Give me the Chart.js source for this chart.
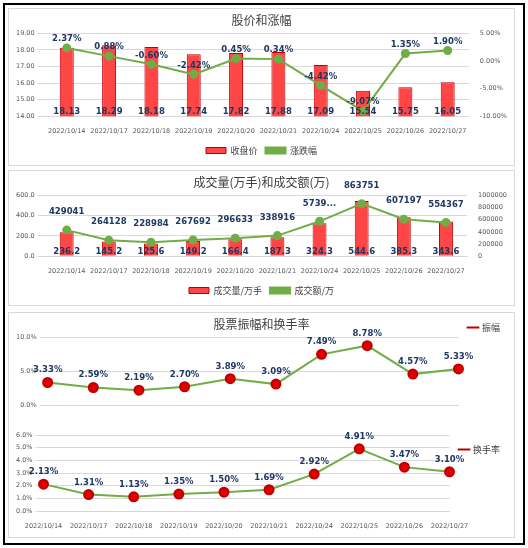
<!DOCTYPE html>
<html><head><meta charset="utf-8">
<script src="https://cdn.jsdelivr.net/npm/chart.js@4"></script>
<style>
body{margin:0;background:#fff;font-family:"Noto Sans CJK SC",sans-serif}
#outer{position:absolute;left:3px;top:3px;width:518px;height:538px;border:2px solid #000}
.box{position:absolute;border:1px solid #d9d9d9;background:#fff}
.box div{position:absolute}
</style></head><body>
<div id="outer"></div>
<div class="box" style="left:8px;top:8px;width:505px;height:156px"><div style="left:0;top:0;width:505px;height:156px"><canvas id="c1"></canvas></div></div>
<div class="box" style="left:8px;top:170px;width:505px;height:134px"><div style="left:0;top:0;width:505px;height:134px"><canvas id="c2"></canvas></div></div>
<div class="box" style="left:8px;top:312px;width:505px;height:224px">
  <div style="left:0;top:0;width:505px;height:108px"><canvas id="c3"></canvas></div>
  <div style="left:0;top:108px;width:505px;height:116px"><canvas id="c4"></canvas></div>
</div>
<script>
const dates = ['2022/10/14','2022/10/17','2022/10/18','2022/10/19','2022/10/20','2022/10/21','2022/10/24','2022/10/25','2022/10/26','2022/10/27'];
const closePrice = [18.13,18.29,18.18,17.74,17.82,17.88,17.09,15.54,15.75,16.05];
const changePct = [2.37,0.88,-0.60,-2.42,0.45,0.34,-4.42,-9.07,1.35,1.90];
const volume = [236.2,145.2,125.6,149.2,166.4,187.3,324.3,544.6,385.3,343.6];
const amount = [429041,264128,228984,267692,296633,338916,573936,863751,607197,554367];
const amountText = ['429041','264128','228984','267692','296633','338916','5739...','863751','607197','554367'];
const amplitude = [3.33,2.59,2.19,2.70,3.89,3.09,7.49,8.78,4.57,5.33];
const turnover = [2.13,1.31,1.13,1.35,1.50,1.69,2.92,4.91,3.47,3.10];

const RED = 'rgba(255,60,60,0.95)', GREEN = '#70ad47', NAVY = '#1f3864', GRID = '#d9d9d9', TICK = '#595959';
const tickFont = {size: 6.5, family: 'DejaVu Sans'};

// value labels: bars at the bottom of the plot, line points above the point
const valueLabels = {
  id: 'valueLabels',
  afterDatasetsDraw(chart) {
    const ctx = chart.ctx;
    ctx.save();
    ctx.font = 'bold 8.5px "DejaVu Sans"';
    ctx.fillStyle = NAVY;
    ctx.textAlign = 'center';
    chart.data.datasets.forEach((ds, i) => {
      const meta = chart.getDatasetMeta(i);
      meta.data.forEach((el, j) => {
        const txt = ds.labelText[j];
        if (meta.type === 'bar') {
          ctx.fillText(txt, el.x, chart.chartArea.bottom - 4);
        } else {
          ctx.fillText(txt, el.x, el.y - ds.labelOffset);
        }
      });
    });
    ctx.restore();
  }
};

function xAxis(show) {
  return {grid: {display: false}, border: {color: GRID},
    ticks: {display: show, font: tickFont, color: TICK, maxRotation: 0, autoSkip: false}};
}
function titleOpt(t) {
  return {display: true, text: t, color: '#404040', font: {size: 12, weight: 'normal', family: 'Noto Sans CJK SC'}, padding: {top: 4, bottom: 6}};
}
const legendBottom = {position: 'bottom', reverse: true,
  labels: {boxWidth: 20, boxHeight: 6, font: {size: 9, family: 'Noto Sans CJK SC'}, color: '#404040', padding: 8}};

new Chart(document.getElementById('c1'), {
  type: 'bar',
  data: {labels: dates, datasets: [
    {type: 'line', label: '涨跌幅', data: changePct, yAxisID: 'y1', borderColor: GREEN, backgroundColor: GREEN, borderWidth: 2, pointRadius: 3.5, labelText: changePct.map(v => v.toFixed(2) + '%'), labelOffset: 9, order: 0},
    {label: '收盘价', data: closePrice, yAxisID: 'y', backgroundColor: RED, borderColor: '#c00000', borderWidth: 1, barPercentage: 0.33, categoryPercentage: 1, labelText: closePrice.map(v => v.toFixed(2)), order: 1}
  ]},
  options: {responsive: true, maintainAspectRatio: false, animation: false,
    layout: {padding: {left: 4, right: 4, top: 0, bottom: 0}},
    plugins: {title: titleOpt('股价和涨幅'), legend: legendBottom, tooltip: {enabled: false}},
    scales: {x: xAxis(true),
      y: {min: 14, max: 19, ticks: {stepSize: 1, autoSkip: false, font: tickFont, color: TICK, callback: v => v.toFixed(2)}, grid: {color: GRID}, border: {display: false}},
      y1: {position: 'right', min: -10, max: 5, ticks: {stepSize: 5, autoSkip: false, font: tickFont, color: TICK, callback: v => v.toFixed(2) + '%'}, grid: {display: false}, border: {display: false}}}},
  plugins: [valueLabels]
});

new Chart(document.getElementById('c2'), {
  type: 'bar',
  data: {labels: dates, datasets: [
    {type: 'line', label: '成交额/万', data: amount, yAxisID: 'y1', borderColor: GREEN, backgroundColor: GREEN, borderWidth: 2, pointRadius: 3.5, labelText: amountText, labelOffset: 18, order: 0},
    {label: '成交量/万手', data: volume, yAxisID: 'y', backgroundColor: RED, borderColor: '#c00000', borderWidth: 1, barPercentage: 0.33, categoryPercentage: 1, labelText: volume.map(v => v.toFixed(1)), order: 1}
  ]},
  options: {responsive: true, maintainAspectRatio: false, animation: false,
    layout: {padding: {left: 4, right: 4}},
    plugins: {title: titleOpt('成交量(万手)和成交额(万)'), legend: legendBottom, tooltip: {enabled: false}},
    scales: {x: xAxis(true),
      y: {min: 0, max: 600, ticks: {stepSize: 200, autoSkip: false, font: tickFont, color: TICK, callback: v => v.toFixed(1)}, grid: {color: GRID}, border: {display: false}},
      y1: {position: 'right', min: 0, max: 1000000, ticks: {stepSize: 200000, autoSkip: false, font: tickFont, color: TICK, callback: v => String(v)}, grid: {display: false}, border: {display: false}}}},
  plugins: [valueLabels]
});

const legendRight = {position: 'right', align: 'start', labels: {usePointStyle: true, pointStyle: 'line', font: {size: 9, family: 'Noto Sans CJK SC'}, color: '#404040', boxWidth: 20}};
function lineChart(id, title, name, values, max, step) {
  new Chart(document.getElementById(id), {
    type: 'line',
    data: {labels: dates, datasets: [
      {label: name, data: values, borderColor: GREEN, borderWidth: 2, pointRadius: 4.5, pointBackgroundColor: '#e00000', pointBorderColor: '#c00000', labelText: values.map(v => v.toFixed(2) + '%'), labelOffset: 10}
    ]},
    options: {responsive: true, maintainAspectRatio: false, animation: false,
      layout: {padding: {left: 4, right: 4, top: title ? 0 : 14, bottom: title ? 8 : 4}},
      plugins: {title: title ? titleOpt(title) : {display: false}, legend: legendRight, tooltip: {enabled: false}},
      scales: {x: xAxis(!title),
        y: {min: 0, max: max, ticks: {stepSize: step, autoSkip: false, font: tickFont, color: TICK, callback: v => v.toFixed(1) + '%'}, grid: {color: GRID}, border: {display: false}}}},
    plugins: [valueLabels]
  });
}
lineChart('c3', '股票振幅和换手率', '振幅', amplitude, 10, 5);
lineChart('c4', null, '换手率', turnover, 6, 1);
</script></body></html>
